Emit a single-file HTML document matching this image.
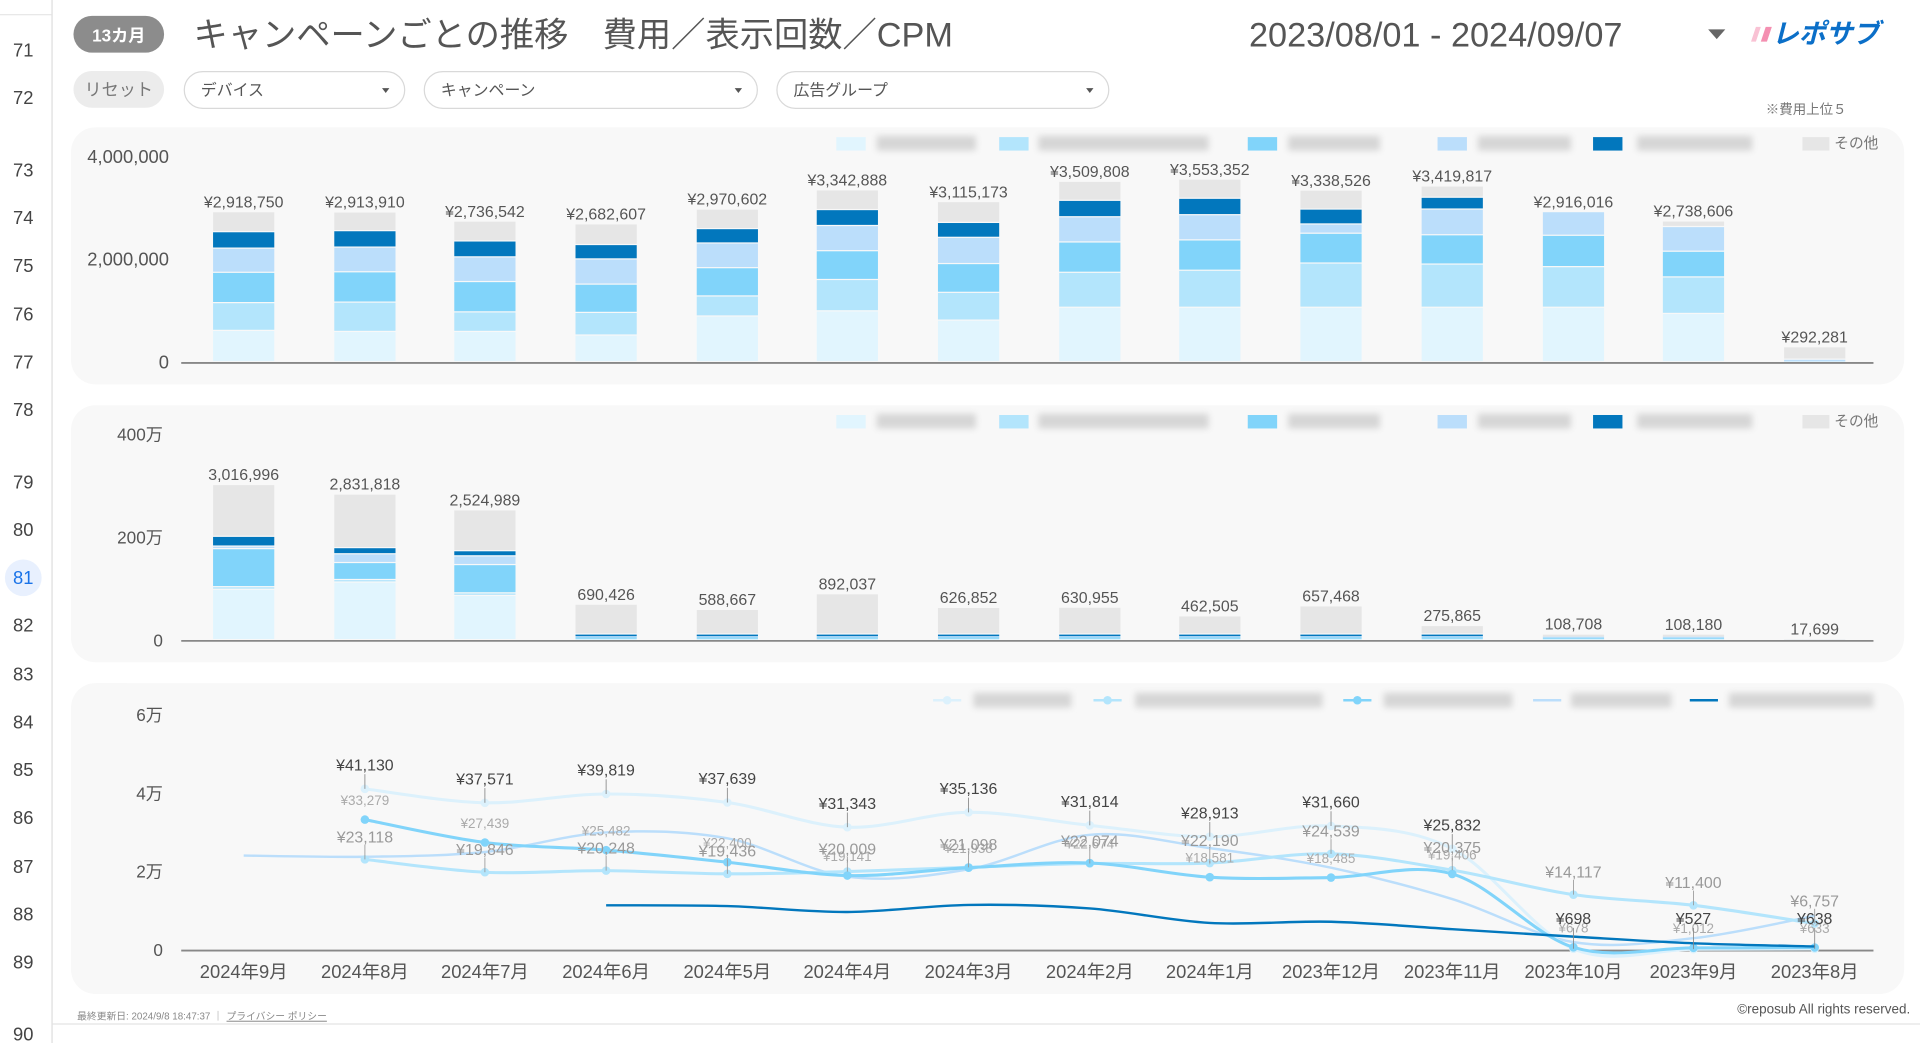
<!DOCTYPE html>
<html><head><meta charset="utf-8"><style>
html,body{margin:0;padding:0;background:#fff;width:1920px;height:1043px;overflow:hidden}
svg{display:block}
text{font-family:"Liberation Sans","Noto Sans CJK JP",sans-serif}
</style></head><body>
<svg id="s" width="1920" height="1043" viewBox="0 0 1568 852" preserveAspectRatio="none" xmlns="http://www.w3.org/2000/svg">
<defs><filter id="bl" x="-20%" y="-50%" width="140%" height="200%"><feGaussianBlur stdDeviation="2.5"/></filter></defs>
<rect width="1568" height="852" fill="#fff"/>
<g id="g"></g>
</svg>
<script>
var g=document.getElementById('g'),o='';
function T(x,y,s,t,fill,anchor,extra){o+='<text x="'+x+'" y="'+y+'" font-size="'+s+'" fill="'+fill+'" text-anchor="'+(anchor||'start')+'" '+(extra||'')+'>'+t+'</text>';}
function R(x,y,w,h,f,extra){o+='<rect x="'+x+'" y="'+y+'" width="'+w+'" height="'+h+'" fill="'+f+'" '+(extra||'')+'/>';}
// gutter
o+='<line x1="42.5" y1="0" x2="42.5" y2="852" stroke="#ddd"/>';
o+='<line x1="0" y1="12" x2="42" y2="12" stroke="#e5e5e5"/>';
var ln=[[71,41],[72,80],[73,139],[74,178],[75,217],[76,257],[77,296],[78,335],[79,394],[80,433],[81,472],[82,511],[83,551],[84,590],[85,629],[86,668],[87,708],[88,747],[89,786],[90,845]];
ln.forEach(function(a){if(a[0]==81){o+='<circle cx="19" cy="'+a[1]+'" r="15" fill="#e8f0fe"/>';T(19,a[1]+5,15,a[0],'#1a73e8','middle');}else T(19,a[1]+5,15,a[0],'#444','middle');});
o+='<line x1="42" y1="836.5" x2="1568" y2="836.5" stroke="#e3e3e3"/>';
// header
R(60,13,74,30,'#8c8c8c','rx="15"');T(97,34,14,'13カ月','#fff','middle','font-weight="bold"');
T(158,38,28,'キャンペーンごとの推移　費用／表示回数／CPM','#555');
T(1020,38,28,'2023/08/01 - 2024/09/07','#555');
o+='<polygon points="1395,24 1409,24 1402,32" fill="#666"/>';
o+='<polygon points="1430,34 1434,22 1438,22 1434,34" fill="#f9c2d4"/><polygon points="1438,34 1442,22 1447,22 1443,34" fill="#f48fb1"/>';
T(1447,35,22,'レポサブ','#0b6fc8','start','font-weight="bold" font-style="italic"');
// filters
R(60,58,74,30,'#ececec','rx="15"');T(97,78,14,'リセット','#777','middle');
[[150,330,'デバイス'],[346,618,'キャンペーン'],[634,905,'広告グループ']].forEach(function(f){R(f[0]+0.5,58.5,f[1]-f[0],30,'#fff','rx="15" stroke="#d9d9d9"');T(f[0]+14,78,13,f[2],'#555');o+='<polygon points="'+(f[1]-18)+',72 '+(f[1]-12)+',72 '+(f[1]-15)+',76" fill="#555"/>';});
T(1508,93,11,'※費用上位５','#777','end');
// panels
R(58,104,1497,210,'#f8f8f8','rx="20"');R(58,331,1497,210,'#f8f8f8','rx="20"');R(58,558,1497,254,'#f8f8f8','rx="20"');
var C=['#e1f5fe','#b3e5fc','#81d4fa','#bbdefb','#0277bd','#e6e6e6'];
function legendBars(y){var it=[[683,716,797],[816,848,987],[1019,1052,1127],[1174,1207,1283],[1301,1337,1431]];
it.forEach(function(a,i){R(a[0],y-5,24,11,C[i]);R(a[1],y-6,a[2]-a[1],12,'#d6d6d6','filter="url(#bl)"');});
R(1472,y-5,22,11,'#e6e6e6');T(1498,y+4,12,'その他','#777');}
legendBars(117);legendBars(344);
var X=[199,298,396,495,594,692,791,890,988,1087,1186,1285,1383,1482];
// panel1
T(138,133,15,'4,000,000','#555','end');T(138,217,15,'2,000,000','#555','end');T(138,301,15,'0','#555','end');
var v1=[2918750,2913910,2736542,2682607,2970602,3342888,3115173,3509808,3553352,3338526,3419817,2916016,2738606,292281];
var s1=[[.61,.54,.59,.47,.32],[.59,.57,.59,.48,.32],[.59,.38,.59,.48,.31],[.52,.44,.55,.49,.28],[.89,.39,.55,.48,.28],[.99,.61,.56,.49,.31],[.81,.54,.56,.51,.29],[1.06,.68,.59,.49,.32],[1.06,.72,.59,.49,.32],[1.06,.86,.58,.18,.29],[1.06,.84,.57,.50,.23],[1.06,.79,.61,.46,0],[.94,.71,.50,.48,0],[.02,0,0,.03,0]];
function fmt(n){return n.toString().replace(/\B(?=(\d{3})+(?!\d))/g,',');}
function bars(base,vals,segs,pre){vals.forEach(function(v,i){var tot=v/1e6,y=base,s=segs[i].slice(),sum=0;s.forEach(function(a){sum+=a});s.push(Math.max(0,tot-sum));
s.forEach(function(a,k){var h=a*42;if(h<=0)return;var hh=h>2?h-1:h;R(X[i]-25,y-h,50,hh,C[k]);y-=h;});
T(X[i],base-tot*42-4,13,pre+fmt(v),'#555','middle');});
o+='<line x1="148" y1="'+(base+0.5)+'" x2="1530" y2="'+(base+0.5)+'" stroke="#888" stroke-width="1.5"/>';}
bars(296,v1,s1,'¥');
// panel2
T(133,360,14,'400万','#555','end');T(133,444,14,'200万','#555','end');T(133,528,14,'0','#555','end');
var v2=[3016996,2831818,2524989,690426,588667,892037,626852,630955,462505,657468,275865,108708,108180,17699];
var s2=[[.98,.05,.74,.05,.19],[1.12,.05,.33,.17,.12],[.86,.05,.55,.17,.10]];
for(var i=3;i<14;i++){var t=v2[i]/1e6;s2.push(t>0.2?[.02,.01,.03,.02,.03]:(t>0.05?[.02,.01,.02,.02,0]:[.01,0,0,0,0]));}
bars(523,v2,s2,'');
// panel3
T(133,589,14,'6万','#555','end');T(133,653,14,'4万','#555','end');T(133,717,14,'2万','#555','end');T(133,781,14,'0','#555','end');
o+='<line x1="148" y1="776.5" x2="1530" y2="776.5" stroke="#888" stroke-width="1.5"/>';
var M=['2024年9月','2024年8月','2024年7月','2024年6月','2024年5月','2024年4月','2024年3月','2024年2月','2024年1月','2023年12月','2023年11月','2023年10月','2023年9月','2023年8月'];
M.forEach(function(m,i){T(X[i],799,15,m,'#555','middle');});
function Y(v){return 776-v*0.0032;}
function path(pts){var d='M'+pts[0][0]+','+pts[0][1];for(var i=0;i<pts.length-1;i++){var p0=pts[i-1]||pts[i],p1=pts[i],p2=pts[i+1],p3=pts[i+2]||p2;var t=6;
d+=' C'+(p1[0]+(p2[0]-p0[0])/t)+','+(p1[1]+(p2[1]-p0[1])/t)+' '+(p2[0]-(p3[0]-p1[0])/t)+','+(p2[1]-(p3[1]-p1[1])/t)+' '+p2[0]+','+p2[1];}return d;}
function series(start,vals,col,w,dots){var pts=vals.map(function(v,i){return [X[start+i],Y(v)];});o+='<path d="'+path(pts)+'" fill="none" stroke="'+col+'" stroke-width="'+w+'"/>';
if(dots)pts.forEach(function(p){o+='<circle cx="'+p[0]+'" cy="'+p[1]+'" r="3.5" fill="'+col+'"/>';});return pts;}
var C_=[24100,23800,25000,30000,28500,18700,20600,29400,26000,21000,13000,2000,3000,8700];
var A=[41130,37571,39819,37639,31343,35136,31814,28913,31660,25832,300,200,300];
var B=[23118,19846,20248,19436,20009,21098,22074,22190,24539,20375,14117,11400,6757];
var D=[33279,27439,25482,22400,19000,21000,22200,18581,18485,19406,678,527,633];
var E=[11400,11200,9700,11500,10600,6900,7200,5300,3400,1700,900];
series(0,C_,'#bbdefb',2,false);
var pa=series(1,A,'#dcf1fc',2.5,true);
var pb=series(1,B,'#b3e5fc',2.5,true);
var pd=series(1,D,'#81d4fa',2.5,true);
series(3,E,'#0277bd',2,false);
var Al=['¥41,130','¥37,571','¥39,819','¥37,639','¥31,343','¥35,136','¥31,814','¥28,913','¥31,660','¥25,832','¥698','¥527','¥638'];
var Bl=['¥23,118','¥19,846','¥20,248','¥19,436','¥20,009','¥21,098','¥22,074','¥22,190','¥24,539','¥20,375','¥14,117','¥11,400','¥6,757'];
var Dl=['¥33,279','¥27,439','¥25,482','¥22,400','¥19,141','¥21,938','¥22,674','¥18,581','¥18,485','¥19,406','¥678','¥1,012','¥633'];
Dl.forEach(function(l,i){var p=pd[i];T(p[0],p[1]-12,11,l,'#aaa','middle');});
Bl.forEach(function(l,i){var p=pb[i];o+='<line x1="'+p[0]+'" y1="'+(p[1]-12)+'" x2="'+p[0]+'" y2="'+p[1]+'" stroke="#999" stroke-width="0.7"/>';T(p[0],p[1]-14,13,l,'#999','middle');});
Al.forEach(function(l,i){var p=pa[i];var ly=i>=10?755:p[1]-15;o+='<line x1="'+p[0]+'" y1="'+(ly+3)+'" x2="'+p[0]+'" y2="'+p[1]+'" stroke="#888" stroke-width="0.7"/>';T(p[0],ly,13,l,'#444','middle');});
// legend p3
[[762,795,875,'#dcf1fc',1],[893,927,1080,'#b3e5fc',1],[1097,1130,1235,'#81d4fa',1],[1252,1283,1365,'#bbdefb',0],[1380,1412,1530,'#0277bd',0]].forEach(function(a){o+='<line x1="'+a[0]+'" y1="572" x2="'+(a[0]+23)+'" y2="572" stroke="'+a[3]+'" stroke-width="2"/>';if(a[4])o+='<circle cx="'+(a[0]+11.5)+'" cy="572" r="3.5" fill="'+a[3]+'"/>';R(a[1],566,a[2]-a[1],12,'#d6d6d6','filter="url(#bl)"');});
// footer
T(63,833,8,'最終更新日: 2024/9/8 18:47:37 ｜ ','#888');T(185,833,8,'プライバシー ポリシー','#888','start','text-decoration="underline"');
T(1560,828,11,'©reposub All rights reserved.','#555','end');
g.innerHTML=o;
</script>
</body></html>
